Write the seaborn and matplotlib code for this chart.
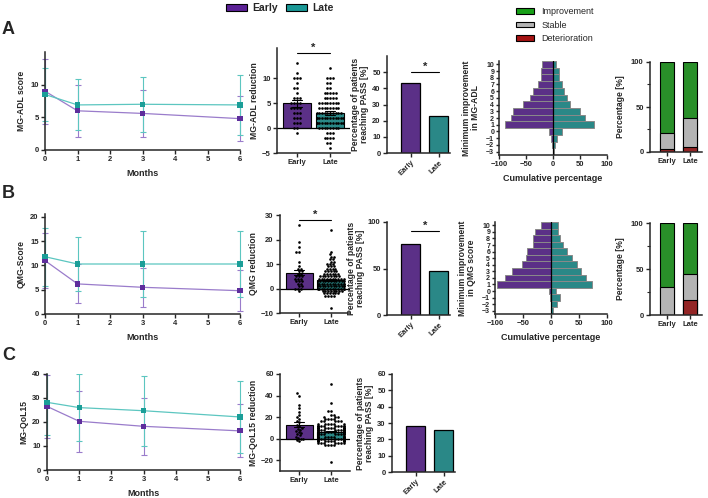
import numpy as np
import pandas as pd
import seaborn as sns
import matplotlib.pyplot as plt
from matplotlib.patches import Patch
from matplotlib.transforms import Bbox, TransformedBbox

sns.set_style('ticks')
plt.rcParams['font.family'] = ['Liberation Sans', 'DejaVu Sans']
plt.rcParams['font.weight'] = 'bold'
plt.rcParams['axes.labelweight'] = 'bold'

W, H = 708, 498

# ---- data ----
groups = ['Early', 'Late']
months = [0, 1, 3, 6]

adl_early_mean = [9.0, 6.0, 5.6, 4.8]
adl_early_sd = [5.0, 4.0, 3.6, 3.4]
adl_late_mean = [8.5, 6.9, 7.0, 6.9]
adl_late_sd = [4.0, 3.9, 4.2, 4.6]

qmg_early_mean = [11.0, 6.2, 5.5, 4.8]
qmg_early_sd = [5.7, 4.0, 4.0, 4.2]
qmg_late_mean = [11.8, 10.3, 10.3, 10.3]
qmg_late_sd = [6.0, 5.6, 6.7, 6.9]

qol_early_mean = [26.5, 20.3, 18.2, 16.3]
qol_early_sd = [13.0, 12.6, 11.8, 11.0]
qol_late_mean = [28.2, 26.0, 24.7, 22.1]
qol_late_sd = [13.5, 14.0, 14.5, 15.0]

# individual reductions (value, count)
adl_red_early_vals = [13, 11, 10, 9, 8, 7, 6, 5, 4, 3, 2, 1, 0, -1]
adl_red_early_n = [1, 1, 3, 1, 2, 1, 3, 4, 4, 3, 3, 3, 2, 1]
adl_red_late_vals = [12, 10, 9, 8, 7, 6, 5, 4, 3, 2, 1, 0, -1, -2, -3, -4]
adl_red_late_n = [1, 3, 2, 2, 5, 5, 8, 8, 10, 12, 12, 8, 3, 4, 2, 1]

qmg_red_early_vals = [26, 19, 17, 15, 11, 9, 8, 7, 6, 5, 4, 3, 2, 1, 0, -1]
qmg_red_early_n = [1, 1, 1, 2, 1, 1, 2, 2, 2, 3, 3, 3, 2, 2, 3, 1]
qmg_red_late_vals = [24, 15, 14, 13, 12, 11, 10, 9, 8, 7, 6, 5, 4, 3, 2, 1, 0, -1, -2, -3, -8]
qmg_red_late_n = [1, 1, 1, 2, 2, 2, 3, 3, 4, 5, 6, 8, 10, 11, 12, 12, 12, 8, 6, 4, 1]

qol_red_early_vals = [42, 40, 31, 28, 25, 22, 20, 18, 16, 15, 13, 12, 10, 9, 8, 7, 6, 5, 4, 3, 2, 1, 0, -1, -2]
qol_red_early_n = [1, 1, 1, 1, 1, 1, 1, 1, 1, 1, 1, 1, 1, 1, 1, 1, 1, 1, 1, 1, 1, 1, 2, 1, 1]
qol_red_late_vals = [51, 33, 26, 22, 20, 18, 16, 14, 12, 10, 8, 6, 4, 2, 0, -2, -4, -6, -22]
qol_red_late_n = [1, 1, 2, 2, 3, 4, 5, 6, 10, 12, 12, 14, 15, 15, 14, 10, 7, 4, 1]

pass_adl = [43.5, 22.7]
pass_qmg = [76.0, 47.0]
pass_qol = [28.0, 26.0]

levels = list(range(10, -4, -1))
cum_adl_early = [21, 22, 22, 28, 37, 42, 56, 75, 78, 88, 8, 3, 1, 0]
cum_adl_late = [6, 12, 12, 17, 20, 25, 32, 50, 60, 76, 17, 7, 4, 2]
cum_qmg_early = [18, 28, 32, 32, 42, 45, 52, 69, 82, 97, 4, 1, 0, 0]
cum_qmg_late = [12, 12.5, 16, 21, 29, 37, 47, 53, 63, 73, 9, 16, 11, 4]

resp_cats = ['Improvement', 'Stable', 'Deterioration']
adl_improve = [79, 62]
adl_stable = [18, 32]
adl_det = [3, 6]
qmg_improve = [70, 55]
qmg_stable = [30, 29]
qmg_det = [0, 16]

# ---- colours ----
purple = '#5B2196'
teal = '#1A9896'
pal = {'Early': purple, 'Late': teal}
line_col = {'Early': '#9A7CCB', 'Late': '#5CC6C0'}
mark_col = {'Early': '#5E2E9C', 'Late': '#1B9E98'}
resp_col = {'Improvement': '#18A018', 'Stable': '#B4B4B4', 'Deterioration': '#A51313'}

fig = plt.figure(figsize=(W / 100, H / 100), dpi=100)


def box(l, t, r, b):
    return fig.add_axes([l / W, 1 - b / H, (r - l) / W, (b - t) / H])


def style(ax):
    sns.despine(ax=ax)
    for s in ['left', 'bottom']:
        ax.spines[s].set_linewidth(1.1)
    ax.tick_params(width=1.0, length=3, labelsize=5.5, pad=1.5)
    ax.xaxis.label.set_size(6.5)
    ax.yaxis.label.set_size(6.2)


def line_panel(ax, em, esd, lm, lsd, ylim, yticks, ylabel):
    df = pd.DataFrame({'Months': months * 2, 'score': em + lm,
                       'group': ['Early'] * 4 + ['Late'] * 4})
    # clip error bars only at top/bottom, let the caps at x=0 and x=6 show
    clip = TransformedBbox(Bbox([[-0.05, 0], [1.05, 1]]), ax.transAxes)
    for g, m, sd in [('Early', em, esd), ('Late', lm, lsd)]:
        eb = ax.errorbar(months, m, yerr=sd, fmt='none', ecolor=line_col[g],
                         elinewidth=0.8, capsize=2, capthick=0.8)
        for art in list(eb.lines[1]) + list(eb.lines[2]):
            art.set_clip_box(clip)
    sns.lineplot(data=df, x='Months', y='score', hue='group', palette=line_col,
                 linewidth=0.9, legend=False, ax=ax)
    sns.scatterplot(data=df, x='Months', y='score', hue='group', palette=mark_col,
                    marker='s', s=14, edgecolor='none', legend=False, ax=ax,
                    clip_on=False, zorder=5)
    ax.set_xlim(0, 6)
    ax.set_xticks(range(7))
    ax.set_ylim(*ylim)
    ax.set_yticks(yticks)
    ax.set_xlabel('Months')
    ax.set_ylabel(ylabel, labelpad=3)
    style(ax)


def dot_panel(ax, ev, en, lv, ln, ylim, yticks, ylabel, sig=None):
    e = np.repeat(ev, en)
    l = np.repeat(lv, ln)
    df = pd.DataFrame({'group': ['Early'] * len(e) + ['Late'] * len(l),
                       'value': np.concatenate([e, l])})
    sns.barplot(data=df, x='group', y='value', hue='group', palette=pal,
                errorbar='se', capsize=0.3, err_kws={'linewidth': 0.8, 'color': 'black'},
                edgecolor='black', linewidth=0.8, width=0.85, legend=False, ax=ax)
    sns.swarmplot(data=df, x='group', y='value', color='black', size=1.9, ax=ax)
    ax.axhline(0, color='black', lw=0.9)
    ax.set_xlim(-0.6, 1.6)
    ax.set_ylim(*ylim)
    ax.set_yticks(yticks)
    ax.set_xlabel('')
    ax.set_ylabel(ylabel, labelpad=2)
    if sig is not None:
        ax.plot([0, 1], [sig, sig], color='black', lw=0.8, clip_on=False)
        ax.text(0.5, sig, '*', ha='center', va='bottom', fontsize=8)
    style(ax)


def pass_panel(ax, vals, ylim, yticks, sig=None):
    sns.barplot(x=groups, y=vals, hue=groups, palette=pal, edgecolor='black',
                linewidth=0.9, width=0.68, legend=False, ax=ax)
    ax.set_xlim(-0.86, 1.4)
    ax.set_ylim(*ylim)
    ax.set_yticks(yticks)
    ax.set_ylabel('Percentage of patients\nreaching PASS [%]', linespacing=1.0, labelpad=2)
    if sig is not None:
        ax.plot([0, 1], [sig, sig], color='black', lw=0.8, clip_on=False)
        ax.text(0.5, sig, '*', ha='center', va='bottom', fontsize=8)
    style(ax)
    plt.setp(ax.get_xticklabels(), rotation=45, ha='right', rotation_mode='anchor')


def pyramid_panel(ax, early, late, ylabel):
    sns.barplot(x=-np.array(early, dtype=float), y=levels, orient='y', native_scale=True,
                color=purple, edgecolor='#8a8a8a', linewidth=0.7, width=1.0, ax=ax)
    sns.barplot(x=np.array(late, dtype=float), y=levels, orient='y', native_scale=True,
                color=teal, edgecolor='#8a8a8a', linewidth=0.7, width=1.0, ax=ax)
    ax.axvline(0, color='black', lw=0.9)
    ax.set_xlim(-100, 100)
    ax.set_xticks([-100, -50, 0, 50, 100])
    ax.set_ylim(-3.5, 10.5)
    ax.set_yticks(levels)
    ax.set_xlabel('Cumulative percentage')
    ax.set_ylabel(ylabel, linespacing=1.0)
    style(ax)
    ax.tick_params(axis='y', labelsize=5, length=2)


def stack_panel(ax, imp, stab, det):
    top = np.add(np.add(imp, stab), det)
    mid = np.add(stab, det)
    for vals, c in [(top, 'Improvement'), (mid, 'Stable'), (det, 'Deterioration')]:
        sns.barplot(x=groups, y=vals, color=resp_col[c], edgecolor='black',
                    linewidth=0.8, width=0.6, ax=ax)
    ax.set_xlim(-0.74, 1.5)
    ax.set_ylim(0, 100)
    ax.set_yticks([0, 50, 100])
    ax.set_yticks([25, 75], minor=True)
    ax.tick_params(axis='y', which='minor', length=2, width=0.8)
    ax.set_ylabel('Percentage [%]')
    style(ax)


# ---- row A ----
ax = box(45, 52, 240, 150)
line_panel(ax, adl_early_mean, adl_early_sd, adl_late_mean, adl_late_sd,
           (0, 15), [0, 5, 10], 'MG-ADL score')
ax = box(277, 48, 350, 153)
dot_panel(ax, adl_red_early_vals, adl_red_early_n, adl_red_late_vals, adl_red_late_n,
          (-5, 16), [-5, 0, 5, 10], 'MG-ADL reduction', sig=15)
ax = box(387, 56, 450, 153)
pass_panel(ax, pass_adl, (0, 60), [0, 10, 20, 30, 40, 50], sig=50)
ax = box(499, 61, 607, 155)
pyramid_panel(ax, cum_adl_early, cum_adl_late, 'Minimum improvement\nin MG-ADL')
ax = box(650, 62, 702, 152)
stack_panel(ax, adl_improve, adl_stable, adl_det)

# ---- row B ----
ax = box(45, 214, 240, 314)
line_panel(ax, qmg_early_mean, qmg_early_sd, qmg_late_mean, qmg_late_sd,
           (0, 20.6), [0, 5, 10, 15, 20], 'QMG-Score')
ax = box(280, 215, 350, 313)
dot_panel(ax, qmg_red_early_vals, qmg_red_early_n, qmg_red_late_vals, qmg_red_late_n,
          (-10, 30), [-10, 0, 10, 20, 30], 'QMG reduction', sig=28)
ax = box(387, 222, 450, 315)
pass_panel(ax, pass_qmg, (0, 100), [0, 50, 100], sig=90)
ax = box(495, 222, 607, 314)
pyramid_panel(ax, cum_qmg_early, cum_qmg_late, 'Minimum improvement\nin QMG score')
ax = box(650, 223, 702, 315)
stack_panel(ax, qmg_improve, qmg_stable, qmg_det)

# ---- row C ----
ax = box(47, 374, 240, 470)
line_panel(ax, qol_early_mean, qol_early_sd, qol_late_mean, qol_late_sd,
           (0, 40), [0, 10, 20, 30, 40], 'MG-QoL15')
ax = box(280, 374, 350, 471)
dot_panel(ax, qol_red_early_vals, qol_red_early_n, qol_red_late_vals, qol_red_late_n,
          (-30, 60), [-20, 0, 20, 40, 60], 'MG-QoL15 reduction')
ax = box(392, 374, 455, 472)
pass_panel(ax, pass_qol, (0, 60), [0, 10, 20, 30, 40, 50, 60])

# ---- legends and panel letters ----
grp_handles = [Patch(facecolor=pal[g], edgecolor='black', linewidth=0.8, label=g) for g in groups]
fig.legend(handles=grp_handles, loc='center', bbox_to_anchor=(280 / W, 1 - 8 / H), ncol=2,
           frameon=False, fontsize=7.5, handlelength=2.0, handleheight=0.6,
           columnspacing=0.8, handletextpad=0.5)
resp_handles = [Patch(facecolor=resp_col[c], edgecolor='black', linewidth=0.8, label=c) for c in resp_cats]
leg = fig.legend(handles=resp_handles, loc='upper left', bbox_to_anchor=(508 / W, 1 + 1 / H),
                 frameon=False, fontsize=6.5, handlelength=2.0, handleheight=0.6,
                 labelspacing=0.5, handletextpad=0.8)
for t in leg.get_texts():
    t.set_fontweight('normal')

for lab, y in [('A', 30), ('B', 193), ('C', 355)]:
    fig.text(2 / W, 1 - y / H, lab, fontsize=13, fontweight='bold', va='center')

fig.savefig('out.png', dpi=100)
